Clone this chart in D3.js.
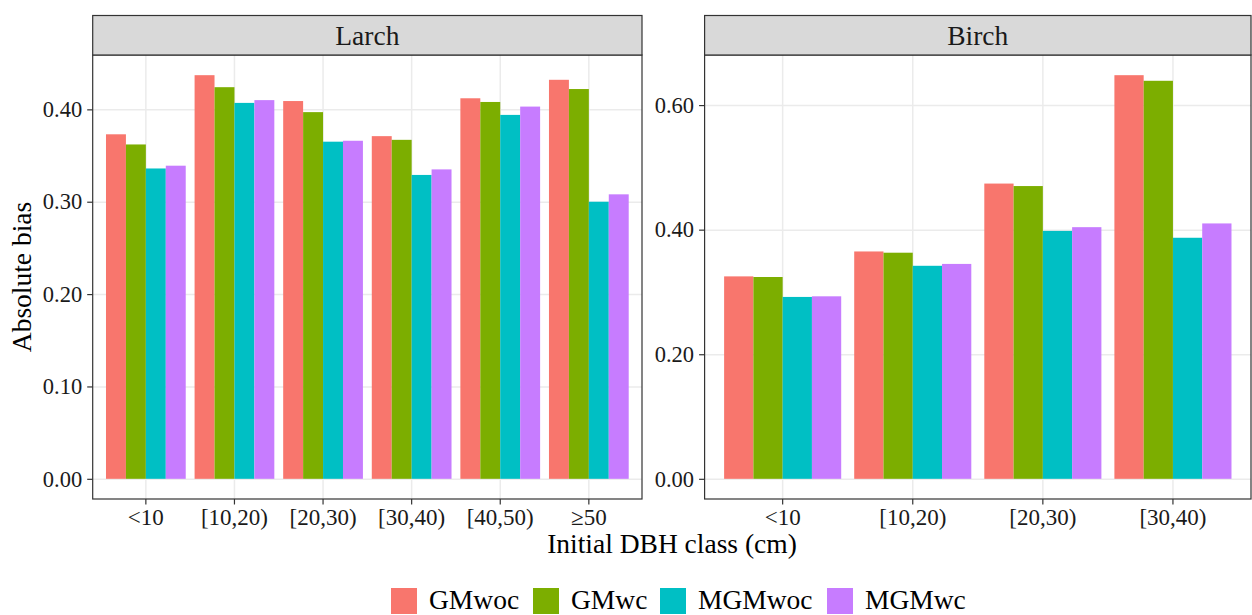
<!DOCTYPE html>
<html>
<head>
<meta charset="utf-8">
<script src="https://cdn.jsdelivr.net/npm/d3@7"></script>
<style>
  body { margin: 0; background: #fff; }
  svg text { font-family: "Liberation Serif", "DejaVu Serif", serif; }
</style>
</head>
<body>
<div id="vis"></div>
<script>
const FRAME_WIDTH = 1252;
const FRAME_HEIGHT = 615;

// data
const SERIES = ["GMwoc", "GMwc", "MGMwoc", "MGMwc"];
const COLORS = ["#F8766D", "#7CAE00", "#00BFC4", "#C77CFF"];

const LARCH_CLASSES = ["<10", "[10,20)", "[20,30)", "[30,40)", "[40,50)", "\u226550"];
const LARCH_GMwoc  = [0.373, 0.437, 0.409, 0.371, 0.412, 0.432];
const LARCH_GMwc   = [0.362, 0.424, 0.397, 0.367, 0.408, 0.422];
const LARCH_MGMwoc = [0.336, 0.407, 0.365, 0.329, 0.394, 0.300];
const LARCH_MGMwc  = [0.339, 0.410, 0.366, 0.335, 0.403, 0.308];
const LARCH_TICKS = [0, 0.1, 0.2, 0.3, 0.4];

const BIRCH_CLASSES = ["<10", "[10,20)", "[20,30)", "[30,40)"];
const BIRCH_GMwoc  = [0.325, 0.365, 0.474, 0.648];
const BIRCH_GMwc   = [0.324, 0.363, 0.470, 0.639];
const BIRCH_MGMwoc = [0.292, 0.342, 0.398, 0.387];
const BIRCH_MGMwc  = [0.293, 0.345, 0.404, 0.410];
const BIRCH_TICKS = [0, 0.2, 0.4, 0.6];

const PANEL_TOP = 55;
const PANEL_BOTTOM = 499;
const STRIP_TOP = 15.5;
const SERIF = "'Liberation Serif', 'DejaVu Serif', serif";

const FRAME = d3.select("#vis")
    .append("svg")
    .attr("width", FRAME_WIDTH)
    .attr("height", FRAME_HEIGHT);

function drawPanel(title, left, right, classes, values, ticks) {
    const rows = [];
    classes.forEach((c, i) => {
        SERIES.forEach((s, j) => {
            rows.push({cls: c, series: s, value: values[j][i]});
        });
    });

    const maxV = d3.max(rows, (d) => d.value);
    const Y_SCALE = d3.scaleLinear()
        .domain([-0.05 * maxV, maxV * 1.05])
        .range([PANEL_BOTTOM, PANEL_TOP]);

    // ggplot discrete expansion: 0.6 units each side
    const X_SCALE = d3.scaleBand()
        .domain(classes)
        .range([left, right])
        .paddingInner(0.1)
        .paddingOuter(0.15);

    const S_SCALE = d3.scaleBand()
        .domain(SERIES)
        .range([0, X_SCALE.bandwidth()]);

    const COLOR = d3.scaleOrdinal().domain(SERIES).range(COLORS);

    const w = right - left;
    const g = FRAME.append("g");

    // gridlines
    g.append("g")
        .attr("transform", "translate(" + left + ",0)")
        .call(d3.axisLeft(Y_SCALE).tickValues(ticks).tickSize(-w).tickFormat(""))
        .call((a) => a.select(".domain").remove())
        .selectAll("line").attr("stroke", "#EBEBEB").attr("stroke-width", 1.5);

    g.append("g")
        .attr("transform", "translate(0," + PANEL_BOTTOM + ")")
        .call(d3.axisBottom(X_SCALE).tickSize(-(PANEL_BOTTOM - PANEL_TOP)).tickFormat(""))
        .call((a) => a.select(".domain").remove())
        .selectAll("line").attr("stroke", "#EBEBEB").attr("stroke-width", 1.5);

    // bars
    g.selectAll(".bar")
        .data(rows)
        .enter()
        .append("rect")
        .attr("x", (d) => X_SCALE(d.cls) + S_SCALE(d.series))
        .attr("width", S_SCALE.bandwidth())
        .attr("y", (d) => Y_SCALE(d.value))
        .attr("height", (d) => Y_SCALE(0) - Y_SCALE(d.value))
        .attr("fill", (d) => COLOR(d.series));

    // panel border
    g.append("rect")
        .attr("x", left).attr("y", PANEL_TOP)
        .attr("width", w).attr("height", PANEL_BOTTOM - PANEL_TOP)
        .attr("fill", "none").attr("stroke", "#333333").attr("stroke-width", 1.2);

    // strip
    g.append("rect")
        .attr("x", left).attr("y", STRIP_TOP)
        .attr("width", w).attr("height", PANEL_TOP - STRIP_TOP)
        .attr("fill", "#D9D9D9").attr("stroke", "#333333").attr("stroke-width", 1.2);
    g.append("text")
        .attr("x", left + w / 2).attr("y", (STRIP_TOP + PANEL_TOP) / 2 + 9.5)
        .attr("text-anchor", "middle")
        .style("font-family", SERIF)
        .style("font-size", "27.5px")
        .attr("fill", "#1A1A1A")
        .text(title);

    // y axis
    const yAxis = g.append("g")
        .attr("transform", "translate(" + left + ",0)")
        .call(d3.axisLeft(Y_SCALE).tickValues(ticks).tickSize(5.5).tickPadding(5).tickFormat(d3.format(".2f")));
    yAxis.select(".domain").remove();
    yAxis.selectAll("line").attr("stroke", "#333333").attr("stroke-width", 1.2);
    yAxis.selectAll("text")
        .style("font-family", SERIF).style("font-size", "22.5px")
        .attr("fill", "#1A1A1A");

    // x axis
    const xAxis = g.append("g")
        .attr("transform", "translate(0," + PANEL_BOTTOM + ")")
        .call(d3.axisBottom(X_SCALE).tickSize(5.5).tickPadding(4));
    xAxis.select(".domain").remove();
    xAxis.selectAll("line").attr("stroke", "#333333").attr("stroke-width", 1.2);
    xAxis.selectAll("text")
        .style("font-family", SERIF).style("font-size", "23px")
        .attr("fill", "#1A1A1A");
}

drawPanel("Larch", 92.7, 642, LARCH_CLASSES,
    [LARCH_GMwoc, LARCH_GMwc, LARCH_MGMwoc, LARCH_MGMwc], LARCH_TICKS);
drawPanel("Birch", 704.6, 1251, BIRCH_CLASSES,
    [BIRCH_GMwoc, BIRCH_GMwc, BIRCH_MGMwoc, BIRCH_MGMwc], BIRCH_TICKS);

// axis titles
FRAME.append("text")
    .attr("x", 672).attr("y", 553)
    .attr("text-anchor", "middle")
    .style("font-family", SERIF).style("font-size", "27.5px")
    .text("Initial DBH class (cm)");

FRAME.append("text")
    .attr("transform", "translate(31," + ((PANEL_TOP + PANEL_BOTTOM) / 2) + ") rotate(-90)")
    .attr("text-anchor", "middle")
    .style("font-family", SERIF).style("font-size", "27.5px")
    .text("Absolute bias");

// legend
const LEGEND_X = [391, 533, 660, 827];
const legend = FRAME.append("g");
SERIES.forEach((s, i) => {
    legend.append("rect")
        .attr("x", LEGEND_X[i]).attr("y", 588)
        .attr("width", 26).attr("height", 26)
        .attr("fill", COLORS[i]);
    legend.append("text")
        .attr("x", LEGEND_X[i] + 38).attr("y", 609)
        .style("font-family", SERIF).style("font-size", "27.5px")
        .text(s);
});
</script>
</body>
</html>
